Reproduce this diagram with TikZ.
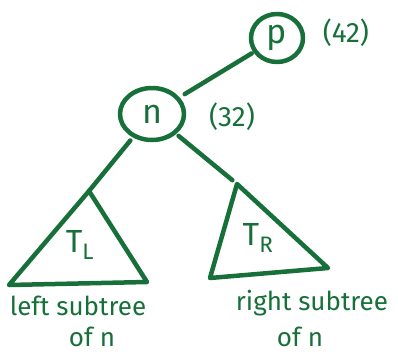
\documentclass[tikz,border=0pt]{standalone}
\usepackage{fontspec}
\setmainfont{Fira Sans}
\usetikzlibrary{shapes.geometric}
\definecolor{ink}{HTML}{17703A}
\begin{document}
\begin{tikzpicture}[x=1pt,y=-1pt,
  ink line/.style={draw=ink,line width=4.5pt,line cap=round,line join=round},
  vertex/.style={ink line,ellipse,inner sep=0pt,font=\fontsize{34}{36}\selectfont,text=ink},
  lbl/.style={text=ink,font=\fontsize{28}{30}\selectfont,inner sep=0pt},
  captext/.style={text=ink,font=\fontsize{26}{28}\selectfont,inner sep=0pt},
  sub/.style={text=ink,font=\fontsize{32}{34}\selectfont,inner sep=0pt}]
\useasboundingbox (0,0) rectangle (398,361);
\node[vertex,minimum width=52pt,minimum height=48pt] (p) at (277,38) {p};
\node[vertex,minimum width=64pt,minimum height=52pt] (n) at (152,114) {n};
\node[lbl] (l42) at (346,33) {(42)};
\node[lbl] (l32) at (232,117) {(32)};
% left subtree
\coordinate (La) at (89,191);
\coordinate (Lb) at (9,285);
\coordinate (Lc) at (147,282);
\draw[ink line] (La) -- (Lb) -- (Lc) -- cycle;
% right subtree
\coordinate (Ra) at (237,184);
\coordinate (Rb) at (210,278);
\coordinate (Rc) at (328,268);
\draw[ink line] (Ra) -- (Rb) -- (Rc) -- cycle;
% edges
\draw[ink line,shorten <=2pt,shorten >=6pt] (p) -- (n);
\draw[ink line,shorten <=4pt] (n) -- (La);
\draw[ink line,shorten <=3pt,shorten >=6pt] (n) -- (Ra);
\node[sub] (TL) at (80,245) {T\textsubscript{L}};
\node[sub] (TR) at (258,238) {T\textsubscript{R}};
\node[captext] (ls) at (78,306) {left subtree};
\node[captext] (lo) at (92,337) {of n};
\node[captext] (rs) at (312,303) {right subtree};
\node[captext] (ro) at (300,337) {of n};
\end{tikzpicture}
\end{document}
